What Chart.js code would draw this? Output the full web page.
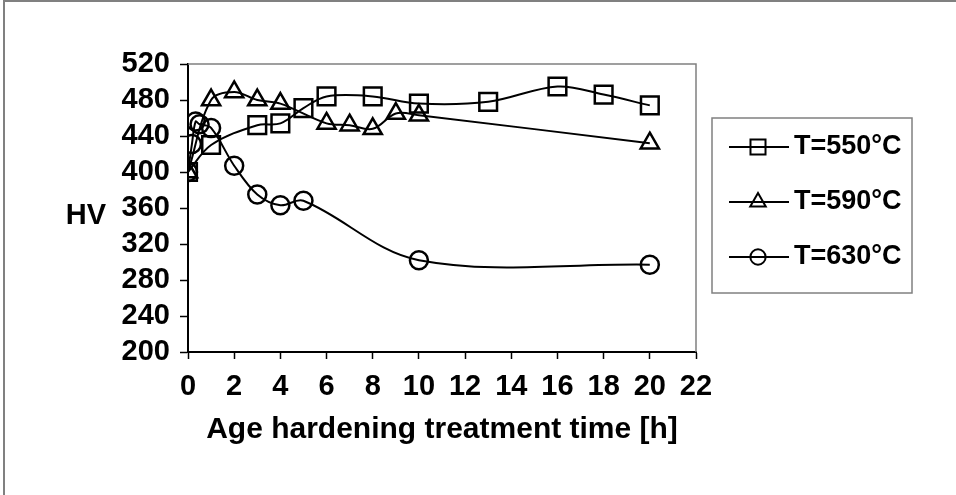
<!DOCTYPE html>
<html>
<head>
<meta charset="utf-8">
<script src="https://cdn.jsdelivr.net/npm/chart.js@4/dist/chart.umd.min.js"></script>
<style>
  html, body { margin: 0; padding: 0; background: #fff; }
  #wrap { width: 956px; height: 495px; }
</style>
</head>
<body>
<div id="wrap"><canvas id="chart" width="956" height="495"></canvas></div>
<script>
// hardness (HV) vs ageing time (h) for three temperatures
const time550 = [0, 1, 3, 4, 5, 6, 8, 10, 13, 16, 18, 20];
const hv550 = [400, 430, 452, 454, 471, 484, 484, 476, 478, 495, 486, 474];

const time590 = [0, 1, 2, 3, 4, 6, 7, 8, 9, 10, 20];
const hv590 = [400, 480, 489, 480, 476, 454, 452, 448, 465, 463, 432];

const time630 = [0, 0.17, 0.33, 0.5, 1, 2, 3, 4, 5, 10, 20];
const hv630 = [400, 431, 456, 453, 449, 407, 375, 363, 368, 302, 297];

const seriesLabels = ['T=550°C', 'T=590°C', 'T=630°C'];
const xTicks = [0, 2, 4, 6, 8, 10, 12, 14, 16, 18, 20, 22];
const yTicks = [200, 240, 280, 320, 360, 400, 440, 480, 520];

const FONT = '"Liberation Sans", Arial, sans-serif';

const toPoints = (xs, ys) => xs.map((x, i) => ({ x, y: ys[i] }));

const makeSet = (label, xs, ys, style, radius) => ({
    label,
    data: toPoints(xs, ys),
    borderColor: '#000',
    borderWidth: 2,
    backgroundColor: 'rgba(0,0,0,0)',
    pointStyle: style,
    pointRadius: radius,
    pointBorderWidth: 2.5,
    pointBorderColor: '#000',
    pointBackgroundColor: 'rgba(0,0,0,0)',
    tension: 0.35,
    fill: false
});

const datasets = [
    makeSet(seriesLabels[0], time550, hv550, 'rect', 12.5),
    makeSet(seriesLabels[1], time590, hv590, 'triangle', 10.5),
    makeSet(seriesLabels[2], time630, hv630, 'circle', 9)
];

// frame, plot border, HV label and the boxed legend
const decor = {
    id: 'decor',
    afterDraw(chart) {
        const ctx = chart.ctx;
        const area = chart.chartArea;
        ctx.save();

        ctx.strokeStyle = '#808080';
        ctx.lineWidth = 2;
        ctx.beginPath();
        ctx.moveTo(4, 495);
        ctx.lineTo(4, 1);
        ctx.lineTo(956, 1);
        ctx.stroke();

        ctx.lineWidth = 1.5;
        ctx.beginPath();
        ctx.moveTo(area.left, area.top);
        ctx.lineTo(area.right, area.top);
        ctx.lineTo(area.right, area.bottom);
        ctx.stroke();

        ctx.fillStyle = '#000';
        ctx.font = 'bold 29px ' + FONT;
        ctx.textAlign = 'right';
        ctx.textBaseline = 'middle';
        ctx.fillText('HV', 106, 216);

        // legend box
        ctx.strokeStyle = '#808080';
        ctx.lineWidth = 1.5;
        ctx.strokeRect(712, 118, 200, 175);

        const rows = [147, 202, 257];
        chart.data.datasets.forEach((ds, i) => {
            const y = rows[i];
            ctx.strokeStyle = '#000';
            ctx.lineWidth = 2;
            ctx.beginPath();
            ctx.moveTo(729, y);
            ctx.lineTo(789, y);
            ctx.stroke();
            ctx.fillStyle = 'rgba(0,0,0,0)';
            ctx.strokeStyle = '#000';
            ctx.lineWidth = 2;
            Chart.helpers.drawPoint(ctx, {
                pointStyle: ds.pointStyle,
                radius: ds.pointRadius * 0.85,
                borderWidth: 2
            }, 758, y);
            ctx.fillStyle = '#000';
            ctx.font = 'bold 27px ' + FONT;
            ctx.textAlign = 'left';
            ctx.textBaseline = 'middle';
            ctx.fillText(ds.label, 794, y);
        });

        ctx.restore();
    }
};

new Chart(document.getElementById('chart').getContext('2d'), {
    type: 'line',
    data: { datasets },
    options: {
        responsive: false,
        animation: false,
        layout: { padding: { left: 0, right: 260, top: 64, bottom: 0 } },
        plugins: {
            legend: { display: false },
            tooltip: { enabled: false }
        },
        scales: {
            x: {
                type: 'linear',
                min: 0,
                max: 22,
                afterFit: (s) => { s.height = 143; },
                afterBuildTicks: (s) => { s.ticks = xTicks.map(v => ({ value: v })); },
                border: { color: '#000', width: 2 },
                grid: { drawOnChartArea: false, drawTicks: true, tickLength: 7, tickColor: '#000', tickWidth: 1.5 },
                ticks: { color: '#000', font: { family: FONT, size: 29, weight: 'bold' }, padding: 11, maxRotation: 0, autoSkip: false },
                title: {
                    display: true,
                    text: 'Age hardening treatment time [h]',
                    color: '#000',
                    font: { family: FONT, size: 30, weight: 'bold' },
                    padding: { top: 0, bottom: 47 }
                }
            },
            y: {
                type: 'linear',
                min: 200,
                max: 520,
                afterFit: (s) => { s.width = 188; },
                afterBuildTicks: (s) => { s.ticks = yTicks.map(v => ({ value: v })); },
                border: { color: '#000', width: 2 },
                grid: { drawOnChartArea: false, drawTicks: true, tickLength: 8, tickColor: '#000', tickWidth: 1.5 },
                ticks: { color: '#000', font: { family: FONT, size: 29, weight: 'bold' }, padding: 10, autoSkip: false }
            }
        }
    },
    plugins: [decor]
});
</script>
</body>
</html>
